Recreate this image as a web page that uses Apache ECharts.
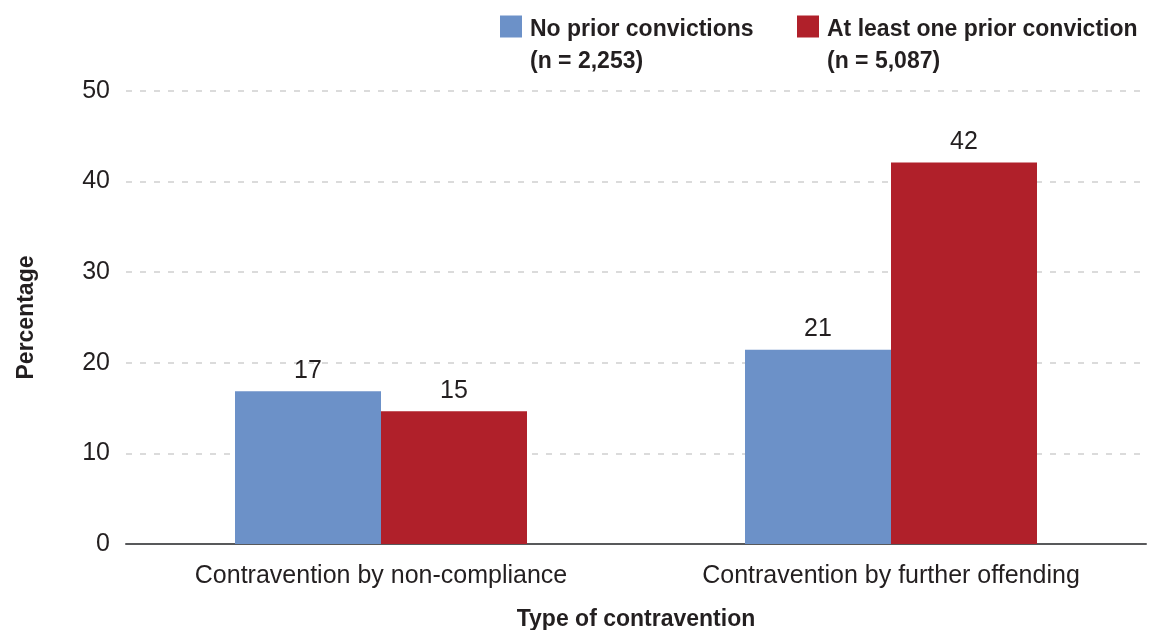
<!DOCTYPE html>
<html>
<head>
<meta charset="utf-8">
<script src="https://cdn.jsdelivr.net/npm/echarts@6/dist/echarts.min.js"></script>
<style>
  html, body { margin: 0; padding: 0; background: #fff; }
  #chart { width: 1153px; height: 630px; }
</style>
</head>
<body>
<div id="chart"></div>
<script>
// data
const categories = ['Contravention by non-compliance', 'Contravention by further offending']
const seriesNames = ['No prior convictions', 'At least one prior conviction']
const sampleSizes = ['(n = 2,253)', '(n = 5,087)']
const noPrior = [16.85, 21.45]
const atLeastOne = [14.65, 42.1]
const yTicks = [0, 10, 20, 30, 40, 50]

const colors = ['#6c91c8', '#b0202a']
const font = '"Liberation Sans", Arial, sans-serif'
const textColor = '#231f20'

const chart = echarts.init(document.getElementById('chart'))

// one legend per series so each can be placed where the original has it
function makeLegend(i, left) {
  return {
    data: [seriesNames[i]],
    left: left,
    top: -17,
    padding: 0,
    itemWidth: 22,
    itemHeight: 22,
    icon: 'rect',
    selectedMode: false,
    // blank first line keeps the icon level with the first text line
    formatter: name => '{s|\u00a0}\n{t|' + name + '}\n{t|' + sampleSizes[i] + '}',
    textStyle: {
      fontFamily: font,
      fontSize: 23,
      fontWeight: 'bold',
      color: textColor,
      padding: [0, 0, 0, 3],
      rich: {
        s: { fontSize: 23, lineHeight: 39 },
        t: { fontFamily: font, fontSize: 23, fontWeight: 'bold', color: textColor, lineHeight: 32 }
      }
    }
  }
}

function makeBar(i, values) {
  return {
    name: seriesNames[i],
    type: 'bar',
    data: values,
    barWidth: 146,
    barGap: '0%',
    itemStyle: { color: colors[i] },
    label: {
      show: true,
      position: 'top',
      distance: 8,
      formatter: p => Math.round(p.value),
      fontFamily: font,
      fontSize: 25,
      color: textColor
    }
  }
}

const option = {
  animation: false,
  legend: [makeLegend(0, 500), makeLegend(1, 797)],
  grid: { left: 126, right: 7, top: 91, bottom: 86, outerBoundsMode: 'none' },
  xAxis: {
    type: 'category',
    data: categories,
    name: 'Type of contravention',
    nameLocation: 'middle',
    nameGap: 64,
    nameTextStyle: { fontFamily: font, fontSize: 23, fontWeight: 'bold', color: textColor },
    axisLine: { lineStyle: { color: '#58595b', width: 2 } },
    axisTick: { show: false },
    axisLabel: { fontFamily: font, fontSize: 25, color: textColor, margin: 20 }
  },
  yAxis: {
    type: 'value',
    min: yTicks[0],
    max: yTicks[yTicks.length - 1],
    interval: 10,
    name: 'Percentage',
    nameLocation: 'middle',
    nameGap: 88,
    nameTextStyle: { fontFamily: font, fontSize: 23, fontWeight: 'bold', color: textColor },
    axisLine: { show: false },
    axisTick: { show: false },
    axisLabel: { fontFamily: font, fontSize: 25, color: textColor, margin: 16 },
    splitLine: { lineStyle: { color: '#cfcfcf', width: 1.5, type: [6, 8] } }
  },
  series: [makeBar(0, noPrior), makeBar(1, atLeastOne)]
}

chart.setOption(option)
</script>
</body>
</html>
